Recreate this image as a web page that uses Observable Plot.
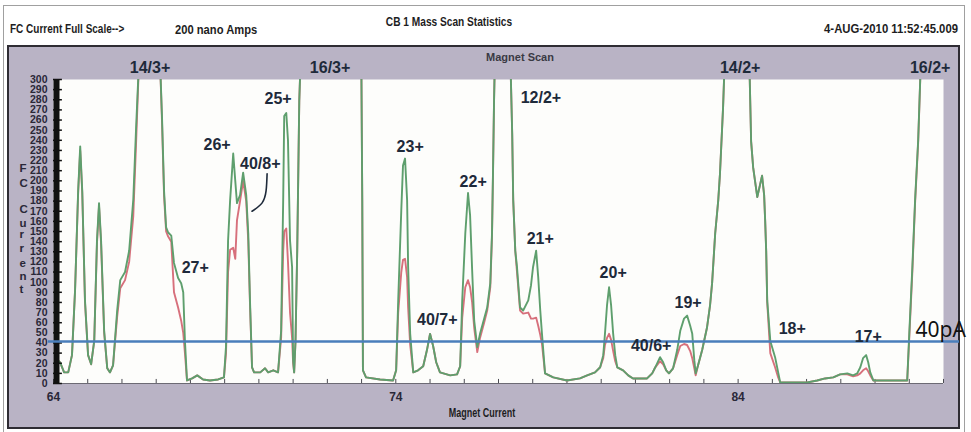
<!DOCTYPE html>
<html><head><meta charset="utf-8">
<script src="https://cdn.jsdelivr.net/npm/d3@7"></script>
<script src="https://cdn.jsdelivr.net/npm/@observablehq/plot@0.6"></script>
<style>
body{margin:0;background:#fff;}
#wrap{position:relative;width:971px;height:432px;overflow:hidden;font-family:"Liberation Sans",Arial,sans-serif;}
.outer{position:absolute;left:3px;top:5px;width:962px;height:440px;border:1px solid #a0a0a0;box-sizing:border-box;}
.panel{position:absolute;left:7px;top:45px;width:953px;height:384px;background:#b9b3c5;border:2px solid #2e2c33;box-sizing:border-box;}
.t{position:absolute;white-space:nowrap;color:#1d1d22;line-height:1;font-weight:bold;}
#chart svg{position:absolute;left:0;top:0;}
</style></head><body><div id="wrap">
<div class="outer"></div>
<div class="panel"></div>
<div class="t" style="left:10px;top:28px;font-size:13px;transform:translateY(-50%) scaleX(0.77);transform-origin:0 50%;">FC Current Full Scale--&gt;</div>
<div class="t" style="left:175px;top:29px;font-size:13px;transform:translateY(-50%) scaleX(0.86);transform-origin:0 50%;">200 nano Amps</div>
<div class="t" style="left:449px;top:21px;font-size:13px;transform:translate(-50%,-50%) scaleX(0.78);transform-origin:50% 50%;">CB 1 Mass Scan Statistics</div>
<div class="t" style="left:958px;top:28px;font-size:13px;transform:translate(-100%,-50%) scaleX(0.87);transform-origin:100% 50%;">4-AUG-2010 11:52:45.009</div>
<div class="t" style="left:520px;top:57px;font-size:11px;color:#3a3a44;transform:translate(-50%,-50%);">Magnet Scan</div>
<div class="t" style="left:482px;top:412px;font-size:13px;transform:translate(-50%,-50%) scaleX(0.69);transform-origin:50% 50%;">Magnet Current</div>
<div id="chart"></div>
</div>
<script>
// ---- data ----
const magnetCurrent = [64.05,64.19,64.31,64.43,64.54,64.63,64.72,64.78,64.84,64.92,65.01,65.10,65.19,65.27,65.33,65.39,65.48,65.57,65.65,65.74,65.86,65.95,66.09,66.21,66.33,66.41,66.50,66.82,67.11,67.17,67.23,67.29,67.35,67.44,67.52,67.64,67.73,67.79,67.84,67.90,68.05,68.20,68.37,68.57,68.81,68.98,69.04,69.10,69.16,69.25,69.31,69.36,69.45,69.54,69.63,69.69,69.74,69.80,69.86,70.04,70.18,70.27,70.42,70.56,70.65,70.71,70.74,70.80,70.85,70.91,70.97,71.00,71.03,71.07,71.12,71.18,71.23,72.99,73.02,73.04,73.13,73.54,73.92,74.01,74.07,74.16,74.21,74.27,74.33,74.36,74.42,74.51,74.65,74.80,74.91,75.00,75.09,75.18,75.29,75.59,75.79,75.88,75.94,76.03,76.11,76.17,76.23,76.29,76.38,76.46,76.58,76.67,76.76,76.81,76.84,76.87,76.90,77.34,77.40,77.43,77.49,77.54,77.63,77.72,77.87,77.95,78.01,78.10,78.16,78.22,78.27,78.36,78.60,79.00,79.38,79.59,79.82,79.97,80.06,80.11,80.17,80.23,80.29,80.35,80.41,80.47,80.64,80.79,80.93,81.34,81.49,81.58,81.72,81.81,81.90,81.98,82.10,82.22,82.31,82.42,82.51,82.60,82.66,82.72,82.76,82.83,82.95,83.09,83.18,83.24,83.33,83.42,83.47,83.56,83.62,84.32,84.38,84.44,84.56,84.64,84.70,84.76,84.79,84.82,84.85,84.94,85.08,85.17,85.23,85.67,86.02,86.31,86.54,86.78,86.98,87.19,87.36,87.48,87.57,87.65,87.74,87.80,87.86,87.95,88.44,88.94,89.00,89.09,89.17,89.26,89.35,89.99];
const greenTrace = [25,21,11,11,28,92,190,234,190,82,28,19,42,141,178,141,52,15,11,18,72,102,110,131,181,250,320,330,320,263,190,154,149,146,119,104,99,90,42,3,5,8,4,3,4,6,37,141,181,227,200,178,186,208,186,148,82,16,11,11,15,11,13,11,52,181,264,267,240,141,115,23,11,42,131,279,330,330,181,13,6,4,3,13,82,171,215,222,181,115,49,11,13,17,33,49,37,21,11,8,9,17,82,148,188,166,112,62,36,49,64,75,99,148,210,279,330,330,247,181,131,115,75,72,82,97,115,131,105,72,49,10,6,3,5,8,11,16,28,49,77,95,77,49,28,16,13,8,5,5,10,16,26,21,13,10,15,33,52,64,67,57,49,23,10,18,33,55,77,99,148,181,207,272,330,330,239,213,184,196,205,186,161,131,82,42,26,11,1,1,1,3,5,6,9,10,8,10,16,25,28,21,11,3,3,3,49,115,181,240,330,330];
const redTrace = [25,21,11,11,28,92,188,230,188,80,28,19,42,138,175,138,50,15,11,18,66,94,102,120,165,235,320,330,320,258,185,150,145,140,90,75,62,50,30,3,5,8,4,3,4,6,30,110,132,134,123,161,180,200,180,140,78,16,11,11,15,11,13,11,45,131,150,153,120,70,45,20,11,42,131,279,330,330,181,13,6,4,3,13,70,110,122,123,105,75,38,11,13,17,33,49,37,21,11,8,9,17,65,95,102,95,80,55,31,45,60,72,95,145,208,279,330,330,247,181,131,110,72,69,70,64,64,65,57,48,39,10,6,3,5,8,11,16,25,38,45,49,43,32,22,16,13,8,5,5,10,16,22,19,13,10,15,28,37,39,38,32,25,15,8,18,33,55,77,99,148,181,207,272,330,330,239,213,184,196,205,186,161,131,80,30,16,6,1,1,1,3,5,6,9,9,7,8,10,13,15,12,8,3,3,3,45,110,178,238,330,330];
const yTickValues = [0,10,20,30,40,50,60,70,80,90,100,110,120,130,140,150,160,170,180,190,200,210,220,230,240,250,260,270,280,290,300];
const xTickLabels = [64,74,84];
const xMinorTicks = [64,65,66,67,68,69,70,71,72,73,74,75,76,77,78,79,80,81,82,83,84,85,86,87,88,89,90];
const threshold = [41.5];
const peakNames = ["14/3+","16/3+","14/2+","16/2+","25+","26+","40/8+","27+","12/2+","23+","22+","21+","40/7+","20+","40/6+","19+","18+","17+"];
const peakCurrent = [66.82,72.08,84.06,89.61,70.56,68.78,70.04,68.14,78.24,74.42,76.26,78.22,75.21,80.35,81.46,82.54,85.58,87.80];
const peakValue = [311,311,311,311,281,235,217,114,282,234,199,143,63,109,37,80,54,46];
const connectorCurrent = [70.24,70.21,70.09,69.80];
const connectorValue = [207,190,178,170];
const yTitleLetters = ["F","C","C","u","r","r","e","n","t"];
const yTitleLevels = [212,198,172,158,147,133,119,106,93];

// ---- build ----
const rows = magnetCurrent.map((c,i)=>({current:c, green:greenTrace[i], red:redTrace[i]}));
const peaks = peakNames.map((n,i)=>({name:n, current:peakCurrent[i], value:peakValue[i]}));
const connector = connectorCurrent.map((c,i)=>({current:c, value:connectorValue[i]}));
const yTitle = yTitleLetters.map((l,i)=>({l, v:yTitleLevels[i]}));

const sans = "'Liberation Sans',Arial,sans-serif";
const chart = Plot.plot({
  width: 971, height: 432,
  marginLeft: 53, marginRight: 28, marginTop: 79, marginBottom: 49,
  x: {domain: [64, 90]},
  y: {domain: [0, 300]},
  style: {background: "transparent", overflow: "visible", fontFamily: sans},
  marks: [
    Plot.frame({fill: "#fdfdfb", stroke: null}),
    Plot.ruleY([0], {stroke: "#6c6a74", strokeWidth: 1}),
    Plot.ruleX(xMinorTicks, {x: d=>d, y1: 0, y2: 4, stroke: "#4a4a52"}),
    Plot.line(rows, {x: "current", y: "red", stroke: "#d7707c", strokeWidth: 1.9, clip: true}),
    Plot.line(rows, {x: "current", y: "green", stroke: "#5e9f6d", strokeWidth: 1.9, clip: true}),
    Plot.ruleX([64], {dx: 3, stroke: "#111", strokeWidth: 6}),
    Plot.ruleY(yTickValues, {y: d=>d, x1: 64, x2: 64.26, stroke: "#111", strokeWidth: 1.5}),
    Plot.axisY(yTickValues, {anchor: "left", tickSize: 0, tickPadding: 6, fontSize: 10.5, fontWeight: "bold", fill: "#2a2838", label: null}),
    Plot.axisX(xTickLabels, {anchor: "bottom", tickSize: 0, tickPadding: 9, fontSize: 12, fontWeight: "bold", fill: "#2a2838", label: null}),
    Plot.text(yTitle, {y: "v", text: "l", frameAnchor: "left", dx: -34, fontSize: 11.5, fontWeight: "bold", fill: "#2a2838"}),
    Plot.ruleY(threshold, {y: d=>d, stroke: "#4a7ebb", strokeWidth: 2.5, insetLeft: -5, insetRight: -16}),
    Plot.text(threshold, {y: d=>d, text: ()=>"40pA", frameAnchor: "right", textAnchor: "start", dx: -28, dy: -11, fontSize: 21, fill: "#111", fontFamily: "'Noto Sans',sans-serif"}),
    Plot.line(connector, {x: "current", y: "value", curve: "natural", stroke: "#1e2a3a", strokeWidth: 1.6}),
    Plot.text(peaks, {x: "current", y: "value", text: "name", fontSize: 16, fontWeight: "bold", fill: "#1e2a3a"})
  ]
});
document.getElementById("chart").appendChild(chart);
</script>
</body></html>
